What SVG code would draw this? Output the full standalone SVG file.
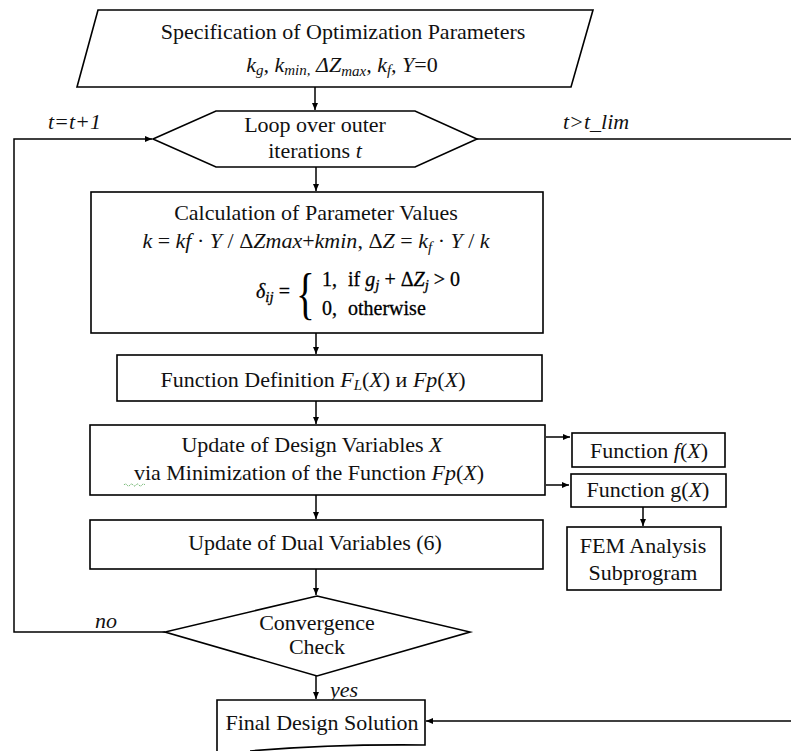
<svg xmlns="http://www.w3.org/2000/svg" width="791" height="751" viewBox="0 0 791 751">
<defs>
<marker id="ah" markerWidth="8" markerHeight="8" refX="7" refY="4" orient="auto" markerUnits="userSpaceOnUse">
<path d="M0,1 L7,4 L0,7 Z" fill="#000"/>
</marker>
<style>
.s{fill:#fff;stroke:#000;stroke-width:1.6}
.c{fill:none;stroke:#000;stroke-width:1.5}
.t{font-family:"Liberation Serif","Times New Roman",serif;font-size:22px;fill:#111}
.i{font-style:italic}
.n{font-family:"Liberation Serif","Times New Roman",serif;font-size:22px;fill:#111;text-anchor:middle}
.sub{font-size:15px}
.d{font-family:"Liberation Serif","Times New Roman",serif;font-size:20px;fill:#000;stroke:#000;stroke-width:0.3}
</style>
</defs>
<rect width="791" height="751" fill="#fff"/>
<g id="connectors">
<path class="c" d="M315,87 V110" marker-end="url(#ah)"/>
<path class="c" d="M165,632 H14 V139 H152" marker-end="url(#ah)"/>
<path class="c" d="M477,139 H791"/>
<path class="c" d="M316,167 V191" marker-end="url(#ah)"/>
<path class="c" d="M316,333 V354" marker-end="url(#ah)"/>
<path class="c" d="M316,401 V424" marker-end="url(#ah)"/>
<path class="c" d="M546,437 H570" marker-end="url(#ah)"/>
<path class="c" d="M546,485 H569" marker-end="url(#ah)"/>
<path class="c" d="M643,507 V526" marker-end="url(#ah)"/>
<path class="c" d="M316,495 V519" marker-end="url(#ah)"/>
<path class="c" d="M316,569 V595" marker-end="url(#ah)"/>
<path class="c" d="M316,676 V699" marker-end="url(#ah)"/>
<path class="c" d="M791,721 H426" marker-end="url(#ah)"/>
<text class="t i" x="48" y="129">t=t+1</text>
<text class="t i" x="563" y="129">t&gt;t_lim</text>
<text class="t i" x="95" y="628">no</text>
<text class="t i" x="330" y="697">yes</text>
</g>
<g id="spec">
<polygon class="s" points="98,10 593,10 571,87 77,87"/>
<text class="n" x="343" y="39">Specification of Optimization Parameters</text>
<text class="n i" x="342" y="72">k<tspan class="sub" dy="3">g</tspan><tspan dy="-3">, k</tspan><tspan class="sub" dy="3">min,</tspan><tspan dy="-3"> ΔZ</tspan><tspan class="sub" dy="4">max</tspan><tspan dy="-4">, k</tspan><tspan class="sub" dy="3">f</tspan><tspan dy="-3">, Y</tspan><tspan font-style="normal">=0</tspan></text>
</g>
<g id="loop">
<polygon class="s" points="153,139 216,111 415,111 477,139 415,167 216,167"/>
<text class="n" x="315" y="132">Loop over outer</text>
<text class="n" x="315" y="158">iterations <tspan font-style="italic">t</tspan></text>
</g>
<g id="calc">
<rect class="s" x="91" y="192" width="452" height="141"/>
<text class="n" x="316" y="220">Calculation of Parameter Values</text>
<text class="n i" x="316" y="248">k<tspan font-style="normal"> = </tspan>kf<tspan font-style="normal"> · </tspan>Y<tspan font-style="normal"> / Δ</tspan>Zmax<tspan font-style="normal">+</tspan>kmin<tspan font-style="normal">,    Δ</tspan>Z<tspan font-style="normal"> = </tspan>k<tspan class="sub" dy="4">f</tspan><tspan dy="-4" font-style="normal"> · </tspan>Y<tspan font-style="normal"> / </tspan>k</text>
<text class="d i" x="256" y="298">δ<tspan class="sub" dy="4">ij</tspan><tspan dy="-4" font-style="normal"> =</tspan></text>
<text class="d" x="0" y="0" style="font-size:56px;stroke-width:0" transform="translate(296,313) scale(0.7,1)">{</text>
<text class="d" x="322" y="286">1,<tspan x="348">if </tspan><tspan font-style="italic">g</tspan><tspan class="sub" dy="4" font-style="italic">j</tspan><tspan dy="-4"> + Δ</tspan><tspan font-style="italic">Z</tspan><tspan class="sub" dy="4" font-style="italic">j</tspan><tspan dy="-4"> &gt; 0</tspan></text>
<text class="d" x="322" y="315">0,<tspan x="348">otherwise</tspan></text>
</g>
<g id="fdef">
<rect class="s" x="117" y="355" width="425" height="46"/>
<text class="n" x="313" y="387">Function Definition <tspan font-style="italic">F</tspan><tspan class="sub" font-style="italic" dy="3">L</tspan><tspan dy="-3">(</tspan><tspan font-style="italic">X</tspan>) и <tspan font-style="italic">Fp</tspan>(<tspan font-style="italic">X</tspan>)</text>
</g>
<g id="update">
<rect class="s" x="90" y="425" width="455" height="70"/>
<text class="n" x="312" y="452">Update of Design Variables <tspan font-style="italic">X</tspan></text>
<text class="n" x="309" y="480">via Minimization of the Function <tspan font-style="italic">Fp</tspan>(<tspan font-style="italic">X</tspan>)</text>
<path d="M124,485 q1.5,-2 3,0 t3,0 t3,0 t3,0 t3,0 t3,0 t3,0" fill="none" stroke="#3a9a3a" stroke-width="1" stroke-dasharray="1,1"/>
</g>
<g id="ff">
<rect class="s" x="572" y="433" width="153" height="34"/>
<text class="n" x="649" y="458">Function <tspan font-style="italic">f</tspan>(<tspan font-style="italic">X</tspan>)</text>
</g>
<g id="fg">
<rect class="s" x="571" y="474" width="155" height="33"/>
<text class="n" x="648" y="497">Function g(<tspan font-style="italic">X</tspan>)</text>
</g>
<g id="fem">
<rect class="s" x="567" y="527" width="154" height="63"/>
<text class="n" x="643" y="553">FEM Analysis</text>
<text class="n" x="643" y="580">Subprogram</text>
</g>
<g id="dual">
<rect class="s" x="90" y="520" width="453" height="49"/>
<text class="n" x="315" y="550">Update of Dual Variables (6)</text>
</g>
<g id="conv">
<polygon class="s" points="317,596 470,632 317,676 165,632"/>
<text class="n" x="317" y="630">Convergence</text>
<text class="n" x="317" y="654">Check</text>
</g>
<g id="final">
<path class="s" d="M217,751 V700 H425 V745 Q330,744 250,751"/>
<text class="n" x="322" y="730">Final Design Solution</text>
</g>
</svg>
